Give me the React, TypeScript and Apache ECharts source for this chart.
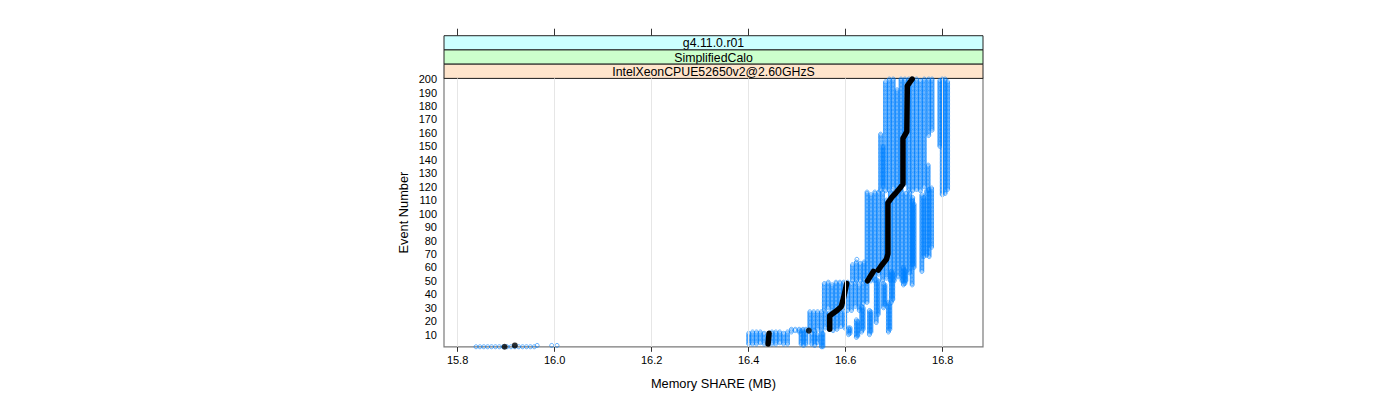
import React, { useEffect, useRef } from "react";
import * as echarts from "echarts";

const xTicks = [15.8, 16.0, 16.2, 16.4, 16.6, 16.8];
const yTicks = [10, 20, 30, 40, 50, 60, 70, 80, 90, 100, 110, 120, 130, 140, 150, 160, 170, 180, 190, 200];
const stripLabels = ["g4.11.0.r01", "SimplifiedCalo", "IntelXeonCPUE52650v2@2.60GHzS"];
const stripColors = ["#ccffff", "#ccffcc", "#ffe5cc"];
const xTitle = "Memory SHARE (MB)";
const yTitle = "Event Number";

// runs: light (striped) columns — memory value held over a range of events
const colMemory = [
  16.672, 16.677, 16.682, 16.690, 16.698, 16.706, 16.714, 16.722, 16.730, 16.738, 16.746, 16.754, 16.762, 16.770, 16.771, 16.778,
  16.644, 16.652, 16.660, 16.668, 16.676, 16.684, 16.692, 16.700, 16.708, 16.716, 16.724, 16.732, 16.738,
  16.614, 16.622, 16.630, 16.638,
  16.556, 16.564, 16.572, 16.580, 16.588, 16.596, 16.604, 16.612, 16.620, 16.628, 16.636, 16.644,
  16.526, 16.534, 16.542, 16.550, 16.558, 16.566, 16.574, 16.582, 16.590, 16.598,
  16.400, 16.408, 16.416, 16.424, 16.432, 16.448, 16.456, 16.464, 16.472, 16.480,
  16.488, 16.496, 16.504, 16.512,
];
const colFrom = [
  117, 120, 117, 117, 119, 117, 117, 122, 117, 117, 118, 117, 120, 117, 158, 162,
  52, 50, 50, 55, 50, 52, 50, 50, 53, 50, 50, 56, 62,
  50, 50, 50, 50,
  28, 30, 28, 29, 28, 30, 28, 28, 31, 28, 33, 34,
  14, 13, 14, 13, 15, 14, 13, 14, 16, 15,
  3, 3, 3, 4, 3, 3, 3, 4, 3, 3,
  12, 13, 12, 13,
];
const colTo = [
  159, 150, 198, 200, 200, 192, 200, 200, 200, 200, 200, 199, 200, 136, 200, 200,
  116, 114, 116, 116, 116, 110, 116, 116, 116, 116, 115, 116, 112,
  62, 64, 63, 64,
  48, 49, 47, 49, 49, 49, 49, 48, 49, 47, 49, 49,
  27, 27, 27, 27, 27, 26, 27, 27, 27, 27,
  11, 12, 12, 12, 11, 12, 12, 12, 11, 12,
  14, 14, 14, 14,
];

// runs: dense (solid) columns
const barMemory = [
  16.794, 16.799, 16.805, 16.810,
  16.737, 16.741, 16.757, 16.761, 16.767, 16.772, 16.777,
  16.719, 16.722, 16.694, 16.697, 16.688, 16.691, 16.678, 16.681,
  16.663, 16.667, 16.649, 16.652, 16.633, 16.636, 16.622, 16.625, 16.606, 16.609,
  16.550, 16.553, 16.508, 16.513, 16.518, 16.530, 16.536, 16.541,
];
const barFrom = [
  150, 114, 115, 118,
  47, 60, 57, 68, 69, 68, 75,
  47, 48, 34, 36, 12, 14, 30, 32,
  19, 25, 10, 12, 12, 14, 8, 9, 10, 11,
  1, 1, 3, 2, 3, 3, 2, 4,
];
const barTo = [
  199, 200, 200, 198,
  110, 107, 114, 112, 117, 118, 119,
  60, 58, 57, 56, 34, 33, 48, 47,
  51, 50, 28, 27, 31, 30, 21, 20, 15, 15,
  12, 11, 13, 12, 14, 11, 13, 10,
];

// single scattered points (memory, event)
const looseMemory = [
  15.838, 15.846, 15.854, 15.862, 15.870, 15.878, 15.886, 15.894, 15.902, 15.910, 15.918, 15.926, 15.934, 15.942, 15.950, 15.958,
  15.964, 15.994, 16.005, 16.623,
];
const looseEvent = [
  1, 1, 1, 1, 1, 1, 1, 1, 1, 1, 1, 1, 1, 1, 1, 1,
  2, 2, 2, 66,
];

// median run (black); null marks a break in the trace
const medianEvent = [
  3, 7, 11, null,
  14, 24, 28, 31, 38, 48, null,
  50, 53, 57, null,
  58, 62, 66, 70, 108, 112, 116, 119, 122, 156, 161, 195, 198, 200,
];
const medianMemory = [
  16.440, 16.441, 16.442, null,
  16.567, 16.567, 16.582, 16.591, 16.596, 16.602, null,
  16.645, 16.650, 16.657, null,
  16.667, 16.675, 16.684, 16.687, 16.687, 16.695, 16.705, 16.712, 16.718, 16.718, 16.726, 16.727, 16.733, 16.737,
];
const medianDotEvent = [1, 2, 13];
const medianDotMemory = [15.897, 15.918, 16.524];

const FONT = "'Liberation Sans', Arial, Helvetica, sans-serif";
const GRID = { left: 444, top: 78.4, width: 539, height: 268.4 };
const STRIP_H = 14.23;

export default function App() {
  const ref = useRef<HTMLDivElement>(null);

  useEffect(() => {
    if (!ref.current) return;
    const chart = echarts.init(ref.current, undefined, { renderer: "svg" });

    const runPoints: number[][] = [];
    colMemory.forEach((m, i) => {
      for (let e = colFrom[i]; e <= colTo[i]; e++) runPoints.push([m, e]);
    });
    barMemory.forEach((m, i) => {
      for (let e = barFrom[i]; e <= barTo[i]; e++) runPoints.push([m, e]);
    });
    looseMemory.forEach((m, i) => runPoints.push([m, looseEvent[i]]));

    const medianLine = medianEvent.map((e, i) =>
      e === null ? [null, null] : [medianMemory[i], e]
    );
    const medianDots = medianDotEvent.map((e, i) => [medianDotMemory[i], e]);

    const strips = stripLabels.map((label, i) => ({
      type: "group",
      children: [
        {
          type: "rect",
          shape: { x: GRID.left, y: GRID.top - STRIP_H * (3 - i), width: GRID.width, height: STRIP_H },
          style: { fill: stripColors[i], stroke: "#222", lineWidth: 1 },
        },
        {
          type: "text",
          x: GRID.left + GRID.width / 2,
          y: GRID.top - STRIP_H * (3 - i) + STRIP_H / 2 + 0.5,
          style: {
            text: label,
            fill: "#000",
            font: `12.3px ${FONT}`,
            textAlign: "center",
            textVerticalAlign: "middle",
          },
        },
      ],
    }));

    const xBase = {
      type: "value",
      min: 15.772,
      max: 16.883,
      splitLine: { show: false },
      axisLine: { show: false },
    };

    chart.setOption({
      animation: false,
      backgroundColor: "#fff",
      grid: {
        ...GRID,
        show: true,
        borderColor: "#7a7a7a",
        borderWidth: 1.2,
        backgroundColor: "transparent",
      },
      xAxis: [
        {
          ...xBase,
          position: "bottom",
          axisTick: { show: true, customValues: xTicks, length: 5, lineStyle: { color: "#333" } },
          axisLabel: {
            customValues: xTicks,
            formatter: (v: number) => v.toFixed(1),
            fontSize: 11,
            fontFamily: FONT,
            color: "#000",
            margin: 8,
          },
          name: xTitle,
          nameLocation: "middle",
          nameGap: 30,
          nameTextStyle: { fontSize: 12.8, fontFamily: FONT, color: "#000" },
        },
        {
          ...xBase,
          position: "top",
          offset: STRIP_H * 3,
          axisTick: { show: true, customValues: xTicks, length: 7, lineStyle: { color: "#333" } },
          axisLabel: { show: false },
        },
      ],
      yAxis: {
        type: "value",
        min: 0.98,
        max: 200.5,
        splitLine: { show: false },
        axisLine: { show: false },
        axisTick: { show: false },
        axisLabel: {
          customValues: yTicks,
          fontSize: 11,
          fontFamily: FONT,
          color: "#000",
          margin: 7,
        },
        name: yTitle,
        nameLocation: "middle",
        nameGap: 34,
        nameTextStyle: { fontSize: 12.8, fontFamily: FONT, color: "#000" },
      },
      graphic: strips,
      series: [
        {
          type: "scatter",
          data: [],
          z: 1,
          silent: true,
          markLine: {
            silent: true,
            symbol: ["none", "none"],
            label: { show: false },
            lineStyle: { color: "#e6e6e6", type: "solid", width: 1 },
            data: xTicks.map((t) => ({ xAxis: t })),
          },
        },
        {
          type: "scatter",
          data: runPoints,
          z: 2,
          symbol: "circle",
          symbolSize: 4,
          clip: true,
          silent: true,
          itemStyle: { color: "rgba(0,0,0,0)", borderColor: "#0080ff", borderWidth: 0.75 },
        },
        {
          type: "line",
          data: medianLine,
          z: 3,
          showSymbol: false,
          connectNulls: false,
          silent: true,
          lineStyle: { color: "#000", width: 5.5, cap: "round", join: "round" },
        },
        {
          type: "scatter",
          data: medianDots,
          z: 4,
          symbolSize: 6,
          clip: false,
          silent: true,
          itemStyle: { color: "#000" },
        },
      ],
    });

    return () => chart.dispose();
  }, []);

  return (
    <div
      ref={ref}
      style={{ position: "absolute", left: 0, top: 0, width: 1400, height: 400 }}
    />
  );
}
